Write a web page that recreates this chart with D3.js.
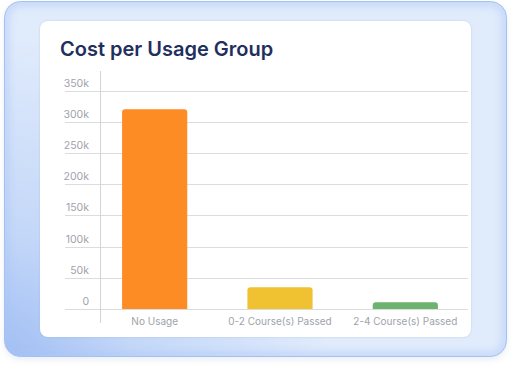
<!DOCTYPE html>
<html>
<head>
<meta charset="utf-8">
<script src="https://cdn.jsdelivr.net/npm/d3@7"></script>
<style>
  html, body { margin: 0; padding: 0; background: #fff; }
  svg { display: block; }
</style>
</head>
<body>
<script>
var categories = ["No Usage", "0-2 Course(s) Passed", "2-4 Course(s) Passed"],
    costs = [320000, 35000, 11000],
    barColors = ["#fd8c24", "#f0c232", "#6cb36f"],
    tickValues = [0, 50000, 100000, 150000, 200000, 250000, 300000, 350000],
    tickLabels = ["0", "50k", "100k", "150k", "200k", "250k", "300k", "350k"];

var w = 511,
    h = 366;

var svg = d3.select("body")
    .append("svg")
    .attr("width", w)
    .attr("height", h);

var defs = svg.append("defs");

var grad = defs.append("radialGradient")
    .attr("id", "panelGrad")
    .attr("gradientUnits", "userSpaceOnUse")
    .attr("cx", 0).attr("cy", 366)
    .attr("r", 330);
grad.append("stop").attr("offset", "0%").attr("stop-color", "#9fbdf4");
grad.append("stop").attr("offset", "40%").attr("stop-color", "#c3d7f8");
grad.append("stop").attr("offset", "100%").attr("stop-color", "#e0ebfc");

defs.append("clipPath")
    .attr("id", "panelClip")
    .append("rect")
    .attr("x", 4.5).attr("y", 1.5)
    .attr("width", 502).attr("height", 355)
    .attr("rx", 16);

var shadow = defs.append("filter")
    .attr("id", "shadow")
    .attr("x", "-10%").attr("y", "-10%")
    .attr("width", "120%").attr("height", "130%");
shadow.append("feDropShadow")
    .attr("dx", 0).attr("dy", 3)
    .attr("stdDeviation", 3)
    .attr("flood-color", "#6a86b8")
    .attr("flood-opacity", 0.15);

defs.append("filter")
    .attr("id", "glow")
    .append("feGaussianBlur")
    .attr("stdDeviation", 4);

var cardShadow = defs.append("filter")
    .attr("id", "cardShadow")
    .attr("x", "-5%").attr("y", "-5%")
    .attr("width", "110%").attr("height", "110%");
cardShadow.append("feDropShadow")
    .attr("dx", 0).attr("dy", 0)
    .attr("stdDeviation", 0.8)
    .attr("flood-color", "#8a9bb8")
    .attr("flood-opacity", 0.35);

// outer blue panel
svg.append("rect")
    .attr("x", 4.5)
    .attr("y", 1.5)
    .attr("width", 502)
    .attr("height", 355)
    .attr("rx", 16)
    .attr("fill", "url(#panelGrad)")
    .attr("filter", "url(#shadow)");

// soft inner edge glow
svg.append("g")
    .attr("clip-path", "url(#panelClip)")
    .append("rect")
    .attr("x", 4.5)
    .attr("y", 1.5)
    .attr("width", 502)
    .attr("height", 355)
    .attr("rx", 16)
    .attr("fill", "none")
    .attr("stroke", "#a8c4f4")
    .attr("stroke-width", 6)
    .attr("opacity", 0.7)
    .attr("filter", "url(#glow)");

svg.append("rect")
    .attr("x", 4.5)
    .attr("y", 1.5)
    .attr("width", 502)
    .attr("height", 355)
    .attr("rx", 16)
    .attr("fill", "none")
    .attr("stroke", "#a3c2f2");

// white card
svg.append("rect")
    .attr("x", 40)
    .attr("y", 21)
    .attr("width", 431)
    .attr("height", 316)
    .attr("rx", 8)
    .attr("fill", "#ffffff")
    .attr("filter", "url(#cardShadow)");

svg.append("text")
    .text("Cost per Usage Group")
    .attr("x", 60)
    .attr("y", 56)
    .attr("font-family", "Inter, 'Noto Sans', sans-serif")
    .attr("font-size", "20px")
    .attr("font-weight", 600)
    .attr("fill", "#1f2f5e");

var x = d3.scaleBand()
    .domain(categories)
    .range([92, 468])
    .paddingInner(0.48)
    .paddingOuter(0.24);

var y = d3.scaleLinear()
    .domain([0, 350000])
    .range([309, 90.5]);

// horizontal grid lines
svg.append("g")
    .selectAll("line")
    .data(tickValues)
    .enter()
    .append("line")
    .attr("x1", 65)
    .attr("x2", 468)
    .attr("y1", function (d) { return Math.round(y(d)) + 0.5; })
    .attr("y2", function (d) { return Math.round(y(d)) + 0.5; })
    .attr("stroke", "#dcdcdc")
    .attr("stroke-width", 1);

// y tick labels sit above their grid line
svg.append("g")
    .selectAll("text")
    .data(tickValues)
    .enter()
    .append("text")
    .text(function (d, i) { return tickLabels[i]; })
    .attr("x", 89)
    .attr("y", function (d) { return y(d) - 4; })
    .attr("text-anchor", "end")
    .attr("font-family", "Inter, 'Noto Sans', sans-serif")
    .attr("font-size", "10.5px")
    .attr("fill", "#9ea3ab");

// vertical axis line
svg.append("line")
    .attr("x1", 100.5)
    .attr("x2", 100.5)
    .attr("y1", 71)
    .attr("y2", 323)
    .attr("stroke", "#d4d4d4");

// bars with rounded tops
function barPath(x0, y0, bw, y1, r) {
    r = Math.min(r, (y1 - y0) / 2);
    return "M" + x0 + "," + y1 +
        "V" + (y0 + r) +
        "Q" + x0 + "," + y0 + " " + (x0 + r) + "," + y0 +
        "H" + (x0 + bw - r) +
        "Q" + (x0 + bw) + "," + y0 + " " + (x0 + bw) + "," + (y0 + r) +
        "V" + y1 + "Z";
}

svg.append("g")
    .selectAll("path")
    .data(costs)
    .enter()
    .append("path")
    .attr("d", function (d, i) {
        return barPath(x(categories[i]), y(d), x.bandwidth(), y(0), 3);
    })
    .attr("fill", function (d, i) { return barColors[i]; });

// category labels
svg.append("g")
    .selectAll("text")
    .data(categories)
    .enter()
    .append("text")
    .text(function (d) { return d; })
    .attr("x", function (d) { return x(d) + x.bandwidth() / 2; })
    .attr("y", 325)
    .attr("text-anchor", "middle")
    .attr("font-family", "Inter, 'Noto Sans', sans-serif")
    .attr("font-size", "10px")
    .attr("fill", "#9ea3ab");
</script>
</body>
</html>
